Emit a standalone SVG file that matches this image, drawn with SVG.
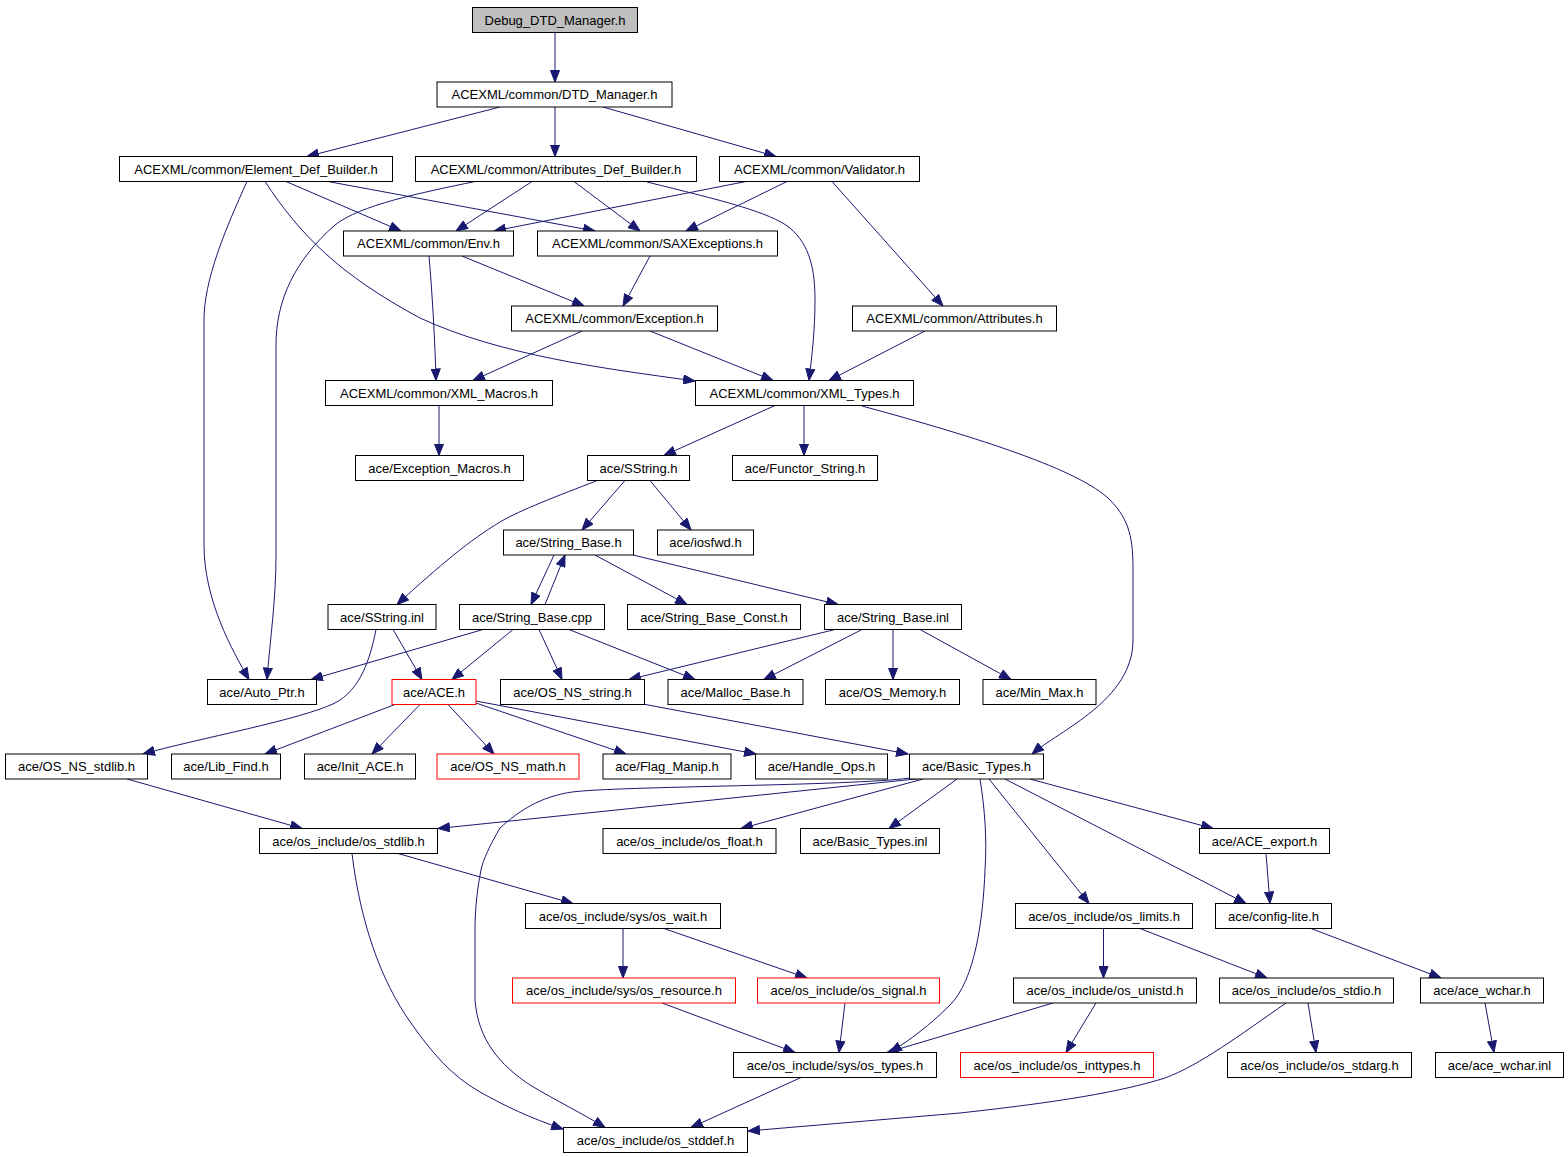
<svg xmlns="http://www.w3.org/2000/svg" width="1568" height="1157" viewBox="0 0 1568 1157">
<style>
.n rect{fill:#fff;stroke:#000;stroke-width:1}
.n.r rect{stroke:#f00}
.n.g rect{fill:#bfbfbf}
.n text{font-family:"Liberation Sans",Arial,Helvetica,sans-serif;font-size:13px;fill:#000;text-anchor:middle}
#edges path{fill:none;stroke:#191970;stroke-width:1;marker-end:url(#ah)}
</style>
<defs>
<marker id="ah" markerUnits="userSpaceOnUse" markerWidth="13" markerHeight="10" refX="12" refY="5" orient="auto" viewBox="0 0 13 10">
<path d="M0.5,0.5 L12,5 L0.5,9.5 z" fill="#191970" stroke="#191970" stroke-width="1"/>
</marker>
</defs>
<rect width="1568" height="1157" fill="#fff"/>
<g id="edges">
<path d="M555,32.5 L555,82"/>
<path d="M500,107 L307,156.5"/>
<path d="M555,107 L555,156.5"/>
<path d="M603,107 L776,156.5"/>
<path d="M286,181.5 L401,231"/>
<path d="M328,181.5 L595,231"/>
<path d="M247,181.5 C225,230 204,280 204,320 L204,545 C204,600 232,650 249,679.5"/>
<path d="M265,181.5 C300,235 340,275 420,318 C500,355 600,368 695,381"/>
<path d="M532,181.5 L456,231"/>
<path d="M574,181.5 L640,231"/>
<path d="M647,182 C720,200 770,212 790,228 C810,245 815,270 815,300 C815,330 812,355 809,380.5"/>
<path d="M475,181.5 C420,193 360,205 335,225 C295,260 276,300 276,345 L276,555 C276,600 270,640 267,679.5"/>
<path d="M746,181.5 L494,231"/>
<path d="M787,181.5 L686,231"/>
<path d="M832,181.5 L943,306"/>
<path d="M429,256 C432,290 435,340 436,380.5"/>
<path d="M462,256 L584,306"/>
<path d="M650,256 L623,306"/>
<path d="M582,331 L473,380.5"/>
<path d="M650,331 L773,380.5"/>
<path d="M925,331 L829,380.5"/>
<path d="M439,405.5 L439,455.5"/>
<path d="M775,405.5 L664,455.5"/>
<path d="M804,405.5 L804,455.5"/>
<path d="M862,406 C980,438 1080,470 1110,500 C1130,520 1133,540 1133,570 L1133,640 C1133,700 1060,730 1032,754"/>
<path d="M625,480.5 L582,530"/>
<path d="M650,480.5 L691,530"/>
<path d="M596,481 C560,495 520,510 500,522 C470,540 440,565 397,604.5"/>
<path d="M554,555 L531,604.5"/>
<path d="M545,604.5 L565,555"/>
<path d="M595,555 L687,604.5"/>
<path d="M633,555 L838,604.5"/>
<path d="M483,629.5 L311,679.5"/>
<path d="M513,629.5 L452,679.5"/>
<path d="M539,629.5 L562,679.5"/>
<path d="M569,629.5 L695,679.5"/>
<path d="M835,629.5 L629,679.5"/>
<path d="M862,629.5 L764,679.5"/>
<path d="M893,629.5 L893,679.5"/>
<path d="M920,629.5 L1011,679.5"/>
<path d="M393,629.5 L422,679.5"/>
<path d="M376,629.5 C370,660 360,690 335,703 C300,720 200,738 143,754"/>
<path d="M395,704.5 L265,754"/>
<path d="M420,704.5 L372,754"/>
<path d="M448,704.5 L494,754"/>
<path d="M476,703 L626,754"/>
<path d="M476,701 L756,754"/>
<path d="M643,704 L908,754"/>
<path d="M127,779 L302,828.5"/>
<path d="M920,778.5 L438,828.5"/>
<path d="M910,778 C850,786 620,786 572,792 C540,797 520,810 500,828 C490,845 483,860 481,870 C477,890 475,910 475,930 L475,1000 C478,1040 500,1065 530,1085 C555,1100 585,1115 605,1127.5"/>
<path d="M923,779 L741,828.5"/>
<path d="M957,779 L889,828.5"/>
<path d="M980,779 C985,810 987,840 985,870 C983,920 975,980 950,1005 C930,1025 910,1040 890,1052.5"/>
<path d="M989,779 L1089,903.5"/>
<path d="M1005,779 L1246,903.5"/>
<path d="M1030,779 L1213,828.5"/>
<path d="M1266,853.5 L1270,903.5"/>
<path d="M398,853.5 L573,903.5"/>
<path d="M352,853.5 C360,920 380,980 411,1023 C430,1050 450,1075 480,1092 C505,1106 530,1118 563,1129"/>
<path d="M623,928.5 L623,978"/>
<path d="M664,928.5 L807,978"/>
<path d="M662,1003 L795,1052.5"/>
<path d="M845,1003 L839,1052.5"/>
<path d="M1103.5,928.5 L1103.5,978"/>
<path d="M1140,928.5 L1267,978"/>
<path d="M1311,928.5 L1441,978"/>
<path d="M1053,1003 L887,1052.5"/>
<path d="M1096,1003 L1066,1052.5"/>
<path d="M1308,1003 L1316,1052.5"/>
<path d="M1485,1003 L1494,1052.5"/>
<path d="M1286,1003 C1240,1035 1200,1065 1165,1078 C1120,1092 1060,1102 960,1113 L748,1131"/>
<path d="M801,1077.5 L691,1127.5"/>
</g>
<g id="n0" class="n g"><rect x="472.5" y="7.5" width="165" height="25"/><text x="555" y="24.5">Debug_DTD_Manager.h</text></g>
<g id="n1" class="n"><rect x="437" y="82" width="235" height="25"/><text x="554.5" y="99">ACEXML/common/DTD_Manager.h</text></g>
<g id="n2" class="n"><rect x="119.5" y="156.5" width="273" height="25"/><text x="256" y="173.5">ACEXML/common/Element_Def_Builder.h</text></g>
<g id="n3" class="n"><rect x="415.5" y="156.5" width="281" height="25"/><text x="556" y="173.5">ACEXML/common/Attributes_Def_Builder.h</text></g>
<g id="n4" class="n"><rect x="719.5" y="156.5" width="200" height="25"/><text x="819.5" y="173.5">ACEXML/common/Validator.h</text></g>
<g id="n5" class="n"><rect x="343.5" y="231" width="170" height="25"/><text x="428.5" y="248">ACEXML/common/Env.h</text></g>
<g id="n6" class="n"><rect x="537.5" y="231" width="240" height="25"/><text x="657.5" y="248">ACEXML/common/SAXExceptions.h</text></g>
<g id="n7" class="n"><rect x="511.5" y="306" width="206" height="25"/><text x="614.5" y="323">ACEXML/common/Exception.h</text></g>
<g id="n8" class="n"><rect x="852.5" y="306" width="204" height="25"/><text x="954.5" y="323">ACEXML/common/Attributes.h</text></g>
<g id="n9" class="n"><rect x="325.5" y="380.5" width="227" height="25"/><text x="439" y="397.5">ACEXML/common/XML_Macros.h</text></g>
<g id="n10" class="n"><rect x="695.5" y="380.5" width="218" height="25"/><text x="804.5" y="397.5">ACEXML/common/XML_Types.h</text></g>
<g id="n11" class="n"><rect x="355.5" y="455.5" width="168" height="25"/><text x="439.5" y="472.5">ace/Exception_Macros.h</text></g>
<g id="n12" class="n"><rect x="587.5" y="455.5" width="102" height="25"/><text x="638.5" y="472.5">ace/SString.h</text></g>
<g id="n13" class="n"><rect x="732.5" y="455.5" width="145" height="25"/><text x="805" y="472.5">ace/Functor_String.h</text></g>
<g id="n14" class="n"><rect x="503.5" y="530" width="130" height="25"/><text x="568.5" y="547">ace/String_Base.h</text></g>
<g id="n15" class="n"><rect x="657.5" y="530" width="96" height="25"/><text x="705.5" y="547">ace/iosfwd.h</text></g>
<g id="n16" class="n"><rect x="328" y="604.5" width="108" height="25"/><text x="382" y="621.5">ace/SString.inl</text></g>
<g id="n17" class="n"><rect x="459.5" y="604.5" width="145" height="25"/><text x="532" y="621.5">ace/String_Base.cpp</text></g>
<g id="n18" class="n"><rect x="627.5" y="604.5" width="173" height="25"/><text x="714" y="621.5">ace/String_Base_Const.h</text></g>
<g id="n19" class="n"><rect x="824.5" y="604.5" width="137" height="25"/><text x="893" y="621.5">ace/String_Base.inl</text></g>
<g id="n20" class="n"><rect x="207.5" y="679.5" width="109" height="25"/><text x="262" y="696.5">ace/Auto_Ptr.h</text></g>
<g id="n21" class="n r"><rect x="392" y="679.5" width="84" height="25"/><text x="434" y="696.5">ace/ACE.h</text></g>
<g id="n22" class="n"><rect x="500.5" y="679.5" width="144" height="25"/><text x="572.5" y="696.5">ace/OS_NS_string.h</text></g>
<g id="n23" class="n"><rect x="668" y="679.5" width="135" height="25"/><text x="735.5" y="696.5">ace/Malloc_Base.h</text></g>
<g id="n24" class="n"><rect x="825.5" y="679.5" width="134" height="25"/><text x="892.5" y="696.5">ace/OS_Memory.h</text></g>
<g id="n25" class="n"><rect x="983" y="679.5" width="113" height="25"/><text x="1039.5" y="696.5">ace/Min_Max.h</text></g>
<g id="n26" class="n"><rect x="5.5" y="754" width="142" height="25"/><text x="76.5" y="771">ace/OS_NS_stdlib.h</text></g>
<g id="n27" class="n"><rect x="171.5" y="754" width="109" height="25"/><text x="226" y="771">ace/Lib_Find.h</text></g>
<g id="n28" class="n"><rect x="304.5" y="754" width="111" height="25"/><text x="360" y="771">ace/Init_ACE.h</text></g>
<g id="n29" class="n r"><rect x="437" y="754" width="142" height="25"/><text x="508" y="771">ace/OS_NS_math.h</text></g>
<g id="n30" class="n"><rect x="603" y="754" width="128" height="25"/><text x="667" y="771">ace/Flag_Manip.h</text></g>
<g id="n31" class="n"><rect x="755.5" y="754" width="132" height="25"/><text x="821.5" y="771">ace/Handle_Ops.h</text></g>
<g id="n32" class="n"><rect x="909.5" y="754" width="134" height="25"/><text x="976.5" y="771">ace/Basic_Types.h</text></g>
<g id="n33" class="n"><rect x="259.5" y="828.5" width="178" height="25"/><text x="348.5" y="845.5">ace/os_include/os_stdlib.h</text></g>
<g id="n34" class="n"><rect x="603" y="828.5" width="173" height="25"/><text x="689.5" y="845.5">ace/os_include/os_float.h</text></g>
<g id="n35" class="n"><rect x="800.5" y="828.5" width="139" height="25"/><text x="870" y="845.5">ace/Basic_Types.inl</text></g>
<g id="n36" class="n"><rect x="1199.5" y="828.5" width="130" height="25"/><text x="1264.5" y="845.5">ace/ACE_export.h</text></g>
<g id="n37" class="n"><rect x="525.5" y="903.5" width="195" height="25"/><text x="623" y="920.5">ace/os_include/sys/os_wait.h</text></g>
<g id="n38" class="n"><rect x="1015.5" y="903.5" width="177" height="25"/><text x="1104" y="920.5">ace/os_include/os_limits.h</text></g>
<g id="n39" class="n"><rect x="1215.5" y="903.5" width="116" height="25"/><text x="1273.5" y="920.5">ace/config-lite.h</text></g>
<g id="n40" class="n r"><rect x="512.5" y="978" width="223" height="25"/><text x="624" y="995">ace/os_include/sys/os_resource.h</text></g>
<g id="n41" class="n r"><rect x="757.5" y="978" width="182" height="25"/><text x="848.5" y="995">ace/os_include/os_signal.h</text></g>
<g id="n42" class="n"><rect x="1013.5" y="978" width="183" height="25"/><text x="1105" y="995">ace/os_include/os_unistd.h</text></g>
<g id="n43" class="n"><rect x="1219.5" y="978" width="174" height="25"/><text x="1306.5" y="995">ace/os_include/os_stdio.h</text></g>
<g id="n44" class="n"><rect x="1420.5" y="978" width="123" height="25"/><text x="1482" y="995">ace/ace_wchar.h</text></g>
<g id="n45" class="n"><rect x="733.5" y="1052.5" width="203" height="25"/><text x="835" y="1069.5">ace/os_include/sys/os_types.h</text></g>
<g id="n46" class="n r"><rect x="960.5" y="1052.5" width="193" height="25"/><text x="1057" y="1069.5">ace/os_include/os_inttypes.h</text></g>
<g id="n47" class="n"><rect x="1227.5" y="1052.5" width="184" height="25"/><text x="1319.5" y="1069.5">ace/os_include/os_stdarg.h</text></g>
<g id="n48" class="n"><rect x="1435.5" y="1052.5" width="128" height="25"/><text x="1499.5" y="1069.5">ace/ace_wchar.inl</text></g>
<g id="n49" class="n"><rect x="563.5" y="1127.5" width="184" height="25"/><text x="655.5" y="1144.5">ace/os_include/os_stddef.h</text></g>
</svg>
